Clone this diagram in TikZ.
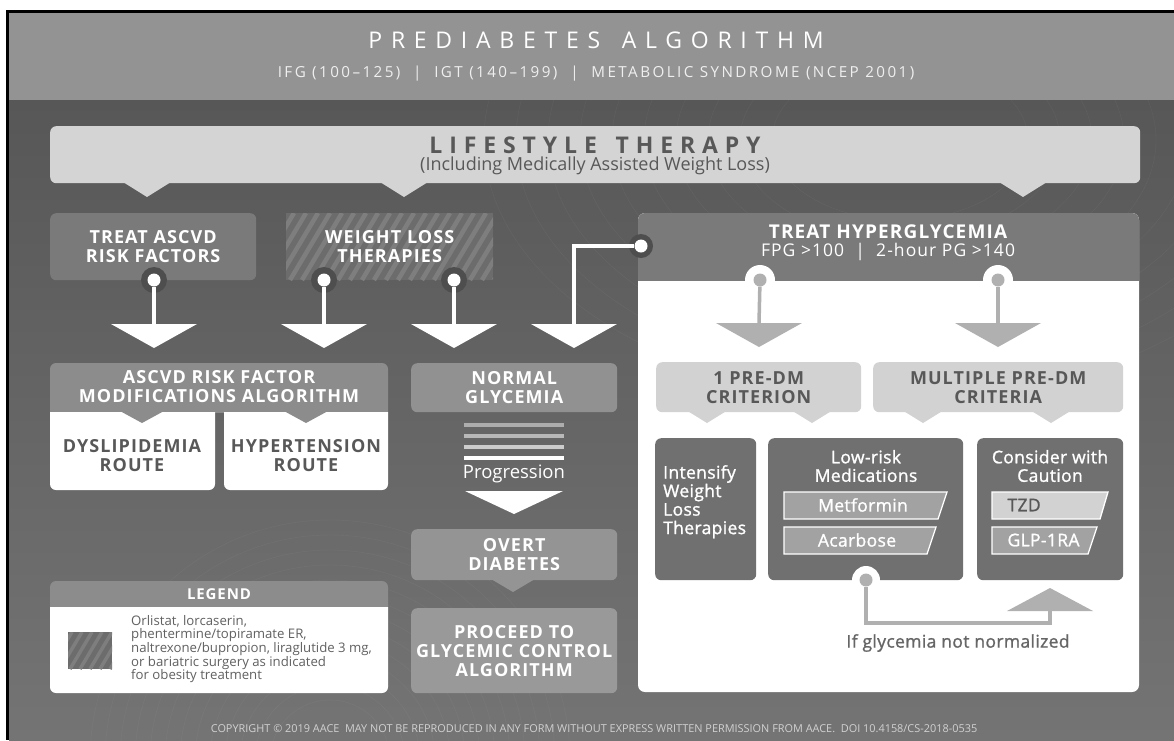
\documentclass[tikz,border=0pt]{standalone}
\usepackage{fontspec}
\usepackage{xcolor}
\setmainfont{Open Sans}
\newfontfamily\titlefont[LetterSpace=38]{Open Sans}
\newfontfamily\subfont[LetterSpace=16]{Open Sans}
\newfontfamily\bannerfont[LetterSpace=30]{Open Sans}
\newfontfamily\capfont[LetterSpace=6]{Open Sans}
\newfontfamily\semifont[FakeBold=1.2,LetterSpace=2]{Open Sans}
\definecolor{hdgray}{HTML}{939393}
\definecolor{bodytop}{HTML}{575757}
\definecolor{bodybot}{HTML}{747474}
\definecolor{lifegray}{HTML}{D4D4D4}
\definecolor{txtdark}{HTML}{585858}
\definecolor{boxgray}{HTML}{7A7A7A}
\definecolor{hatchA}{HTML}{6C6C6C}
\definecolor{hatchB}{HTML}{7E7E7E}
\definecolor{ascgray}{HTML}{8C8C8C}
\definecolor{midgray}{HTML}{707070}
\definecolor{medfill}{HTML}{A2A2A2}
\definecolor{lightfill}{HTML}{D2D2D2}
\definecolor{arrgray}{HTML}{B0B0B0}
\definecolor{ringdark}{HTML}{4E4E4E}
\tikzstyle{box}=[
        inner sep = 0pt,
        anchor = north west,
        rounded corners = 6pt,
        align = center
    ]
\tikzstyle{cap text}=[
        text = white,
        align = center,
        font = {\capfont\bfseries\fontsize{18}{19}\selectfont}
    ]
\tikzstyle{dark cap text}=[
        text = txtdark,
        align = center,
        font = {\capfont\bfseries\fontsize{18}{19}\selectfont}
    ]
\tikzstyle{soft text}=[
        text = white,
        align = center,
        font = {\semifont\fontsize{17.5}{18.5}\selectfont}
    ]
\tikzstyle{white dot}=[
    circle,
    fill = white,
    inner sep = 0pt,
    minimum size = 13pt
]
\tikzstyle{gray dot}=[
    circle,
    fill = arrgray,
    inner sep = 0pt,
    minimum size = 13pt
]

\begin{document}
\begin{tikzpicture}[x=1pt, y=-1pt, white line/.style = {draw=white, line width=3.5pt},
        gray line/.style = {draw=arrgray, line width=3.5pt}]
        \useasboundingbox (0,0) rectangle (1174,740);

        % frame, header and background
        \shade[top color=bodytop, bottom color=bodybot] (9,100) rectangle (1174,740);
        \foreach \r in {60,75,...,240}
            \draw[white, opacity=0.05] (330,760) circle (\r);
        \foreach \r in {80,100,...,260}
            \draw[white, opacity=0.05] (900,140) ellipse ({1.6*\r} and \r);
        \fill[hdgray] (9,13) rectangle (1174,100);
        \fill[black] (6,10) rectangle (9,740);
        \fill[black] (6,10) rectangle (1174,13);
        \node (title) at (596,40) {\titlefont\color{white}\fontsize{23}{25}\selectfont PREDIABETES \hspace{0.3em}ALGORITHM};
        \node (sub) at (596,74) {\subfont\color{white!85!hdgray}\fontsize{15.2}{17}\selectfont IFG (100–125) \ | \ IGT (140–199) \ | \ METABOLIC SYNDROME (NCEP 2001)};

        % lifestyle banner
        \foreach \x in {147,404,1023}
            \fill[lifegray] (\x-24,182) -- (\x+24,182) -- (\x,197) -- cycle;
        \node[box, fill=lifegray, minimum width=1090pt, minimum height=57pt] (life) at (50,126) {};
        \node (lifet) at (595,145) {\bannerfont\bfseries\color{txtdark}\fontsize{23}{25}\selectfont LIFESTYLE \hspace{0.25em}THERAPY};
        \node (lifes) at (595,166) {\color{txtdark}\fontsize{18}{20}\selectfont (Including Medically Assisted Weight Loss)};

        % left branch
        \node[box, cap text, fill=boxgray, minimum width=206pt, minimum height=67pt] (ascvd) at (50,213) {TREAT ASCVD\\RISK FACTORS};
        \begin{scope}
            \clip (286,213) rectangle (493,280);
            \fill[hatchA] (286,213) rectangle (493,280);
            \foreach \x in {230,242,...,500}
                \draw[hatchB, line width=4.5pt] (\x,280) -- ++(40,-67);
        \end{scope}
        \node[box, cap text, rounded corners=0pt, minimum width=207pt, minimum height=67pt] (wlt) at (286,213) {WEIGHT LOSS\\THERAPIES};

        \foreach \x in {154,324,454}
            \fill[ringdark] (\x,280) circle (13);
        \node[white dot] (d1) at (154,280) {};
        \node[white dot] (d2) at (324,280) {};
        \node[white dot] (d3) at (454,280) {};
        \coordinate (a1) at (154,324);
        \coordinate (a2) at (324,324);
        \coordinate (a3) at (454,324);
        \coordinate (a4) at (574,324);

        % treat hyperglycemia panel
        \fill[white, rounded corners=7pt] (638,213) rectangle (1139,692);
        \begin{scope}
            \clip (630,205) rectangle (1150,280);
            \fill[boxgray, rounded corners=7pt] (638,213) rectangle (1139,300);
        \end{scope}
        \node[cap text, font={\capfont\bfseries\fontsize{19}{19}\selectfont}] (hg) at (888,243) {TREAT HYPERGLYCEMIA\\[-1pt]{\mdseries\fontsize{17.5}{18}\selectfont FPG >100 \ | \ 2-hour PG >140}};
        \fill[ringdark] (641,246) circle (12);
        \node[white dot] (dh) at (641,246) {};

        \draw[white line] (d1) -- (a1);
        \draw[white line] (d2) -- (a2);
        \draw[white line] (d3) -- (a3);
        \draw[white line] (dh) -| (a4);
        \foreach \a in {a1,a2,a3,a4}
            \fill[white] (\a) ++(-43,0) -- ++(86,0) -- ++(-43,24) -- cycle;

        % ascvd risk factor modifications
        \begin{scope}
            \clip (40,355) rectangle (400,412);
            \fill[ascgray, rounded corners=6pt] (50,363) rectangle (388,430);
        \end{scope}
        \begin{scope}
            \clip (40,412) rectangle (400,500);
            \fill[white, rounded corners=6pt] (50,400) rectangle (215,490);
            \fill[white, rounded corners=6pt] (224,400) rectangle (388,490);
        \end{scope}
        \foreach \x in {142,306}
            \fill[ascgray] (\x-22,411) -- (\x+22,411) -- (\x,423) -- cycle;
        \node[cap text] (rf) at (219,387) {ASCVD RISK FACTOR\\MODIFICATIONS ALGORITHM};
        \node[dark cap text] (dys) at (132,456) {DYSLIPIDEMIA\\ROUTE};
        \node[dark cap text] (hyp) at (306,456) {HYPERTENSION\\ROUTE};

        % middle column
        \node[box, cap text, fill=white!57!black, minimum width=206pt, minimum height=49pt] (ng) at (411,363) {NORMAL\\GLYCEMIA};
        \draw[line width=4pt, draw=white!68!black] (464,425) -- (564,425);
        \draw[line width=4pt, draw=white!72!black] (464,436) -- (564,436);
        \draw[line width=4pt, draw=white!80!black] (464,447) -- (564,447);
        \draw[line width=4pt, draw=white] (464,458) -- (564,458);
        \node[text=white, font={\fontsize{18.5}{20}\selectfont}] (prog) at (514,474) {Progression};
        \fill[white] (465,491) -- (563,491) -- (514,514) -- cycle;
        \fill[white!58!black] (491,579) -- (535,579) -- (513,592) -- cycle;
        \node[box, cap text, fill=white!58!black, minimum width=206pt, minimum height=51pt] (od) at (411,529) {OVERT\\DIABETES};
        \node[box, cap text, fill=white!60!black, minimum width=206pt, minimum height=85pt] (pg) at (411,608) {PROCEED TO\\GLYCEMIC CONTROL\\ALGORITHM};

        % legend
        \begin{scope}
            \clip (40,575) rectangle (400,607);
            \fill[ascgray, rounded corners=6pt] (50,581) rectangle (388,620);
        \end{scope}
        \begin{scope}
            \clip (40,607) rectangle (400,700);
            \fill[white, rounded corners=6pt] (50,595) rectangle (388,693);
        \end{scope}
        \node[text=white, font={\capfont\bfseries\fontsize{15}{16}\selectfont}] (lg) at (219,594) {LEGEND};
        \begin{scope}
            \clip (68,632) rectangle (112,669);
            \fill[hatchA] (68,632) rectangle (112,669);
            \foreach \x in {40,50,...,120}
                \draw[hatchB, line width=3.5pt] (\x,669) -- ++(22,-37);
        \end{scope}
        \node[anchor=north west, inner sep=0pt, align=left, text=white!38!black,
            font={\fontsize{13.2}{13.6}\selectfont}] (lgt) at (131,615)
            {Orlistat, lorcaserin,\\phentermine/topiramate ER,\\naltrexone/bupropion, liraglutide 3 mg,\\or bariatric surgery as indicated\\for obesity treatment};

        % inside hyperglycemia panel
        \fill[white] (760,280) circle (15);
        \fill[white] (998,280) circle (15);
        \node[gray dot] (d5) at (760,280) {};
        \node[gray dot] (d6) at (998,280) {};
        \coordinate (a5) at (759,323);
        \coordinate (a6) at (998,323);
        \draw[gray line] (d5) -- (a5);
        \draw[gray line] (d6) -- (a6);
        \foreach \a in {a5,a6}
            \fill[arrgray] (\a) ++(-43,0) -- ++(86,0) -- ++(-43,24) -- cycle;

        \foreach \x in {707,812,923,1051}
            \fill[lightfill] (\x-21,410) -- (\x+21,410) -- (\x,423) -- cycle;
        \node[box, dark cap text, fill=lightfill, minimum width=205pt, minimum height=50pt] (c1) at (656,362) {1 PRE-DM\\CRITERION};
        \node[box, dark cap text, fill=lightfill, minimum width=250pt, minimum height=50pt] (c2) at (873,362) {MULTIPLE PRE-DM\\CRITERIA};

        \node[box, fill=midgray, minimum width=101pt, minimum height=142pt] (int) at (655,438) {};
        \node[box, fill=midgray, minimum width=195pt, minimum height=142pt] (low) at (768,438) {};
        \node[box, fill=midgray, minimum width=146pt, minimum height=142pt] (con) at (977,438) {};
        \node[soft text, anchor=north west, inner sep=0pt, align=left] (intt) at (663,465) {Intensify\\Weight\\Loss\\Therapies};
        \node[soft text] (lowt) at (866,466) {Low-risk\\Medications};
        \node[soft text] (cont) at (1050,466) {Consider with\\Caution};

        \filldraw[fill=medfill, draw=white, line width=1.3pt] (784,492) -- (947,492) -- (938,519) -- (784,519) -- cycle;
        \filldraw[fill=medfill, draw=white, line width=1.3pt] (784,527) -- (936,527) -- (927,554) -- (784,554) -- cycle;
        \filldraw[fill=lightfill, draw=white, line width=1.3pt] (992,492) -- (1108,492) -- (1100,519) -- (992,519) -- cycle;
        \filldraw[fill=medfill, draw=white, line width=1.3pt] (992,527) -- (1097,527) -- (1088,554) -- (992,554) -- cycle;
        \node[soft text] (met) at (863,505) {Metformin};
        \node[soft text] (aca) at (857,540) {Acarbose};
        \node[soft text, text=txtdark, anchor=west] (tzd) at (1004,505) {TZD};
        \node[soft text, anchor=west] (glp) at (1004,540) {GLP-1RA};

        \fill[white] (866,580) circle (14);
        \node[gray dot] (d7) at (866,580) {};
        \coordinate (a7) at (1050,611);
        \draw[gray line] (d7) -- ++(0,43) -| (a7);
        \fill[arrgray] (a7) ++(-43,0) -- ++(86,0) -- ++(-43,-23) -- cycle;
        \node[soft text, text=white!40!black] (ifg) at (958,643) {If glycemia not normalized};

        % footer
        \node[text=white!82!black, font={\fontsize{10.9}{12}\selectfont}] (foot) at (594,729) {COPYRIGHT \textcopyright{} 2019 AACE \ MAY NOT BE REPRODUCED IN ANY FORM WITHOUT EXPRESS WRITTEN PERMISSION FROM AACE. \ DOI 10.4158/CS-2018-0535};

    \end{tikzpicture}
\end{document}
